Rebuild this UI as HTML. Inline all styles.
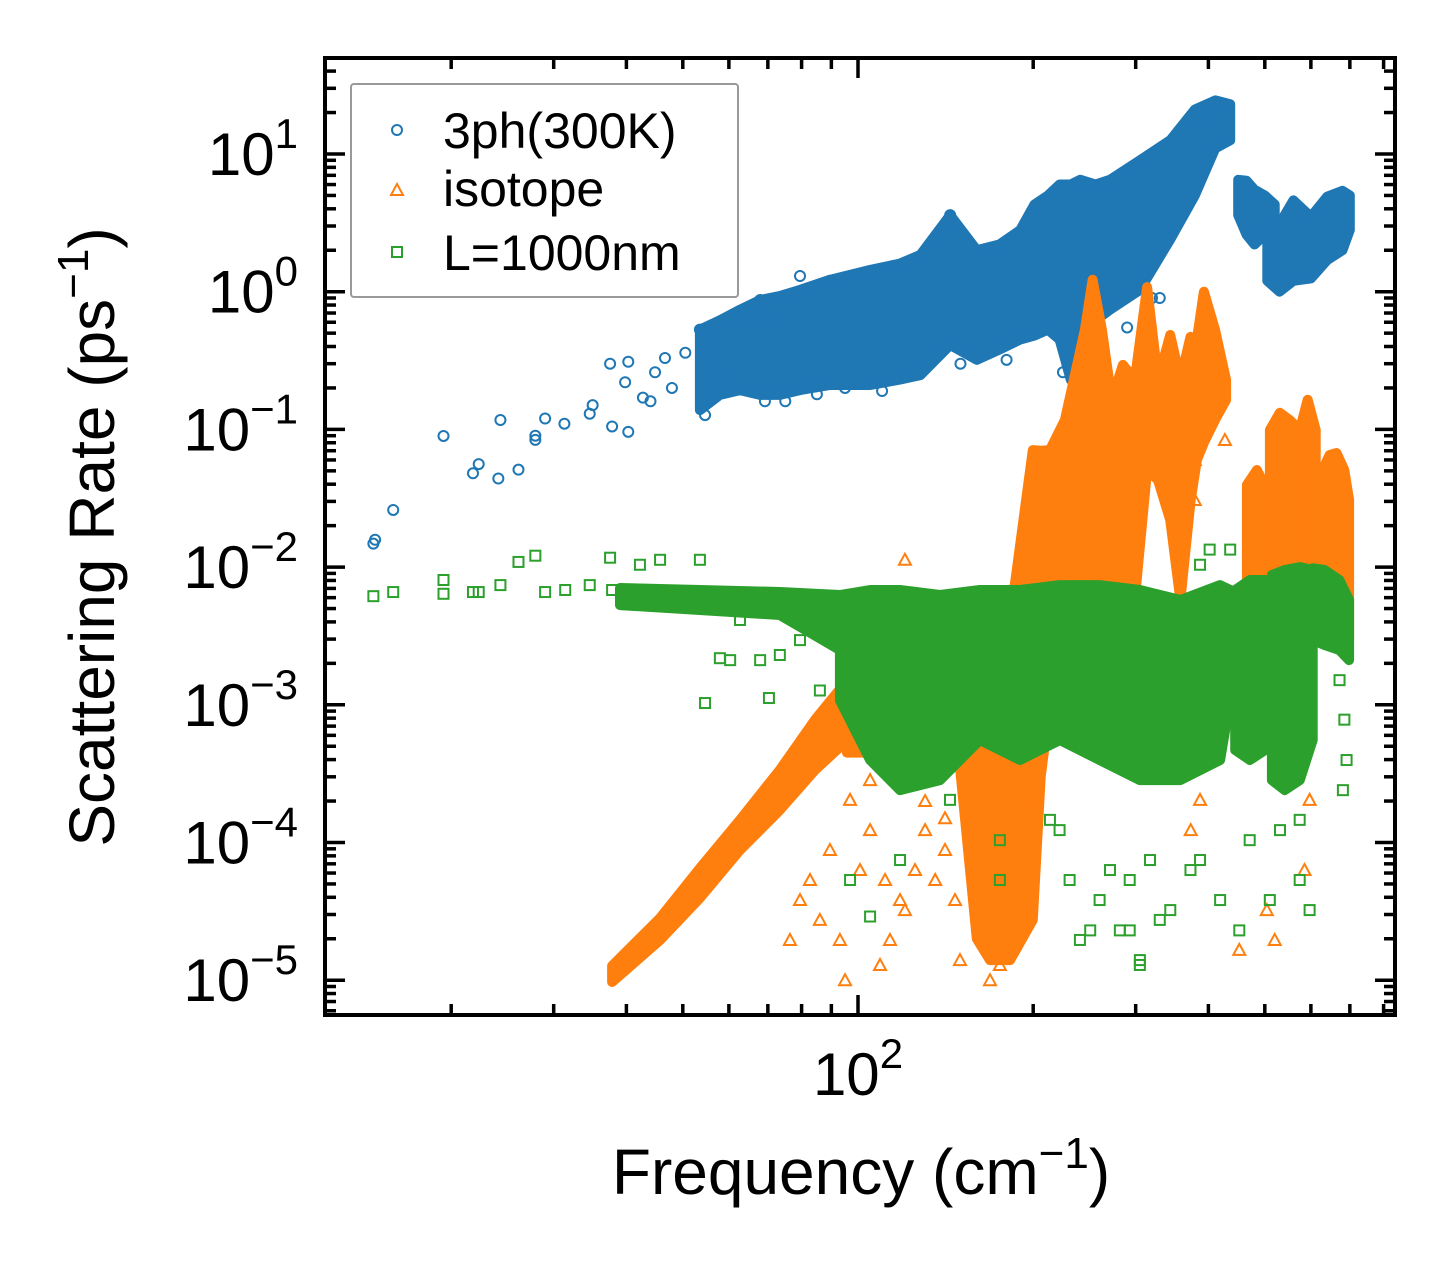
<!DOCTYPE html>
<html><head><meta charset="utf-8"><style>
html,body{margin:0;padding:0;background:#fff;}
svg{display:block;font-family:"Liberation Sans","DejaVu Sans",sans-serif;}
</style></head><body>
<svg id="chart" width="1455" height="1265" viewBox="0 0 1455 1265" xmlns="http://www.w3.org/2000/svg">
<rect width="1455" height="1265" fill="#fff"/>
<g id="series"></g>
<g id="axes"></g>
<g id="legend">
  <rect x="351" y="84" width="387" height="213" rx="3" fill="#fff" fill-opacity="0.8" stroke="#999" stroke-width="2"/>
  <g>
    <circle cx="397" cy="130" r="5" fill="none" stroke="#1f77b4" stroke-width="2"/>
    <text x="443" y="148" font-size="50" fill="#000">3ph(300K)</text>
  </g>
  <g>
    <polygon points="397,184 403,195 391,195" fill="none" stroke="#ff7f0e" stroke-width="2"/>
    <text x="443" y="206" font-size="50" fill="#000">isotope</text>
  </g>
  <g>
    <rect x="392" y="247" width="10" height="10" fill="none" stroke="#2ca02c" stroke-width="2"/>
    <text x="443" y="270" font-size="50" fill="#000">L=1000nm</text>
  </g>
</g>
<text x="861" y="1194" font-size="64" text-anchor="middle">Frequency (cm<tspan font-size="44" dy="-26">−1</tspan><tspan dy="26">)</tspan></text>
<text transform="translate(114,537) rotate(-90)" font-size="64" text-anchor="middle">Scattering Rate (ps<tspan font-size="44" dy="-26">−1</tspan><tspan dy="26">)</tspan></text>
</svg>
<script>
// ---- data (frequency in cm^-1, rate in ps^-1) ----
const xTickValues = [100];
const xTickLabels = ["10"];
const xTickExps = ["2"];
const yTickValues = [10, 1, 0.1, 0.01, 0.001, 0.0001, 0.00001];
const yTickLabels = ["10","10","10","10","10","10","10"];
const yTickExps = ["1","0","−1","−2","−3","−4","−5"];

// 3ph dense band segments
const b1Freq = [53.5,57.9,62.7,67.9,73.4,79.5,89.5,105,118,128,144,160,175,190,201,212,222,232,241,256,271,305,344,379,411,436];
const b1Hi = [0.53,0.62,0.74,0.87,0.93,1.03,1.22,1.44,1.6,1.85,3.6,2.0,2.2,2.8,4.3,5.0,6.0,6.0,6.5,6.0,6.5,9.0,12.6,21,24.5,23];
const b1Lo = [0.138,0.178,0.193,0.178,0.178,0.193,0.21,0.21,0.23,0.248,0.41,0.32,0.38,0.45,0.48,0.53,0.45,0.23,0.38,0.62,0.74,1.03,2.4,5.0,11,12.6];
const b2Freq = [450,465,480,500,520];
const b2Hi = [6.5,6.4,5.5,5.0,4.3];
const b2Lo = [3.6,2.6,2.2,2.6,3.3];
const b3Freq = [505,530,560,600,640,680,700];
const b3Hi = [2.5,3.1,4.6,3.5,4.9,5.4,5.0];
const b3Lo = [1.2,1.0,1.2,1.25,1.7,2.0,2.8];
// 3ph sparse points
const phFreq = [14.7,14.8,15.9,19.4,21.8,22.3,24.1,24.3,26.1,27.9,27.9,29.0,31.3,34.6,35,37.5,37.8,40.3,40.3,39.8,42.7,44,44.8,46.6,47.9,50.5,53.5,54.6,55.7,60,61.5,67.9,69.2,70.6,79.5,89.5,144,232,330,385,75,85,95,110,150,180,260,290,320,225,245];
const phRate = [0.0148,0.0158,0.026,0.0896,0.048,0.056,0.044,0.117,0.051,0.09,0.084,0.12,0.11,0.13,0.15,0.3,0.105,0.096,0.31,0.22,0.17,0.16,0.26,0.33,0.2,0.36,0.53,0.127,0.163,0.25,0.62,0.87,0.16,0.62,1.3,1.2,3.6,0.5,0.9,17,0.16,0.18,0.2,0.19,0.3,0.32,0.5,0.55,0.9,0.26,0.3];

// isotope dense band segments
const o1Freq = [37.8,45.7,53.5,62.7,73.4,84.4,95.7];
const o1Hi = [1.27e-5,2.83e-5,6.5e-5,1.46e-4,3.36e-4,7.8e-4,1.5e-3];
const o1Lo = [9.7e-6,1.96e-5,3.95e-5,8.8e-5,1.72e-4,3.36e-4,5.5e-4];
const o2Freq = [95.7,109.1,127.8,149.7,160,168.6,182.5,199.7,206,213.7,226.7,245.4,253,262.5,273,285.2,299,313.8,327.7,343.9,358,372.6,382.2,393,410.6,429];
const o2Hi = [1.51e-3,1.08e-3,5.55e-4,3.97e-4,5e-4,1.08e-3,4.13e-3,0.0708,0.07,0.0708,0.117,0.53,1.22,0.53,0.164,0.294,0.229,1.08,0.229,0.485,0.229,0.47,0.45,1.0,0.53,0.229];
const o2Lo = [4.5e-4,4.5e-4,4.5e-4,3.5e-4,2e-5,1.4e-5,1.4e-5,2.74e-5,3e-4,1.0e-3,1.5e-3,2.5e-3,2.5e-3,2.5e-3,2.5e-3,2.5e-3,5.77e-3,0.0507,0.0429,0.022,5.77e-3,0.03,0.06,0.08,0.117,0.164];
const o3Freq = [465.8,484.6,504.3];
const o3Hi = [0.0395,0.0507,0.0363];
const o3Lo = [5.77e-3,5.77e-3,5.77e-3];
const o4Freq = [510.2,530.6,551.6,574.3,592.5,611.5];
const o4Hi = [0.099,0.132,0.117,0.099,0.164,0.099];
const o4Lo = [1.08e-3,5.77e-3,8.06e-3,0.01127,0.01127,0.01127];
const o5Freq = [628.5,646.2,664,684.8,698];
const o5Hi = [0.0507,0.0652,0.0674,0.0507,0.0307];
const o5Lo = [0.01127,8.06e-3,5.77e-3,4.13e-3,2.95e-3];
// isotope sparse points
const isoFreq = [120.4,76.4,79.5,86,95,109.1,100.8,82.7,89.5,96.9,104.9,118.1,113.5,104.9,379,379,427,452,520,504,585,597,387,373,685,685,168.6,175.3,120.4,125.3,130.4,135.7,141.1,146.8,149.7,111.3,93.1,130.4,141.1];
const isoRate = [0.0113,1.96e-5,3.82e-5,2.74e-5,1.0e-5,1.29e-5,6.31e-5,5.34e-5,8.83e-5,2.04e-4,1.23e-4,3.82e-5,1.96e-5,2.84e-4,0.06,0.0307,0.0837,1.66e-5,1.96e-5,3.23e-5,6.31e-5,2.04e-4,2.04e-4,1.23e-4,0.0113,8.76e-3,1.0e-5,1.29e-5,3.23e-5,6.31e-5,1.23e-4,5.34e-5,8.83e-5,3.82e-5,1.4e-5,5.34e-5,1.96e-5,2.0e-4,1.5e-4];

// boundary (L=1000nm) dense band segments
const g1Freq = [39.0,53.5,73.4,93.1];
const g1Hi = [7.05e-3,6.82e-3,6.59e-3,6.27e-3];
const g1Lo = [5.3e-3,4.88e-3,4.49e-3,2.5e-3];
const g2Freq = [93.1,104.9,118.1,138.3,162,189.8,222.3,260.1,305.1,358,419,436.1];
const g2Hi = [6.27e-3,6.82e-3,6.82e-3,6.27e-3,6.82e-3,6.82e-3,7.4e-3,7.4e-3,6.82e-3,5.77e-3,7.4e-3,6.82e-3];
const g2Lo = [1.08e-3,3.97e-4,2.4e-4,2.84e-4,5.55e-4,3.97e-4,5.55e-4,3.97e-4,2.84e-4,2.84e-4,3.97e-4,1.08e-3];
const g3Freq = [444.8,471.3,500.7,510.2];
const g3Hi = [6.82e-3,8.06e-3,8.06e-3,7.4e-3];
const g3Lo = [4.7e-4,3.97e-4,4.7e-4,1.08e-3];
const g4Freq = [514.3,541,574.3,604.3];
const g4Hi = [8.76e-3,9.53e-3,0.01,9.53e-3];
const g4Lo = [2.84e-4,2.4e-4,2.84e-4,5.55e-4];
const g5Freq = [604.3,633.5,671.7,698];
const g5Hi = [9.8e-3,9.53e-3,8.06e-3,5.77e-3];
const g5Lo = [2.95e-3,2.72e-3,2.5e-3,2.11e-3];
// boundary sparse points
const bdFreq = [14.7,15.9,19.4,19.4,21.8,22.3,24.3,26.1,27.9,29.0,31.4,34.6,37.5,37.8,40.3,42.2,45.7,53.5,54.6,70.3,57.9,62.7,60.3,67.9,73.4,79.5,86.0,96.9,104.9,118.1,143.9,175.3,175.3,213.7,260.1,293,330,372.6,419,452,510,574,597,305,281.8,240.6,436,402,387,672,685,691,681,231,250.6,271,293,317.5,344,387,471,531,574,222,305];
const bdRate = [6.15e-3,6.59e-3,6.4e-3,8.06e-3,6.59e-3,6.59e-3,7.4e-3,0.0109,0.0121,6.59e-3,6.82e-3,7.4e-3,0.0117,6.82e-3,6.82e-3,0.0104,0.0113,0.0113,1.03e-3,1.12e-3,2.18e-3,4.13e-3,2.11e-3,2.11e-3,2.3e-3,2.95e-3,1.27e-3,5.34e-5,2.9e-5,7.46e-5,2.04e-4,1.04e-4,5.34e-5,1.46e-4,3.82e-5,2.3e-5,2.74e-5,6.31e-5,3.82e-5,2.3e-5,3.82e-5,5.34e-5,3.23e-5,1.29e-5,2.3e-5,1.96e-5,0.0134,0.0134,0.0104,1.51e-3,7.8e-4,3.97e-4,2.4e-4,5.34e-5,2.3e-5,6.31e-5,5.34e-5,7.46e-5,3.23e-5,7.46e-5,1.04e-4,1.23e-4,1.46e-4,1.23e-4,1.4e-5];

// ---- scales ----
const L=325, R=1395, T=58, B=1015;
function xs(f){ return 858 + 582*Math.log10(f/100); }
function ys(r){ return 154 + 137.7*(1-Math.log10(r)); }
const NS='http://www.w3.org/2000/svg';
function mk(tag, attrs, parent){ const e=document.createElementNS(NS,tag); for(const k in attrs) e.setAttribute(k,attrs[k]); parent.appendChild(e); return e; }
const series=document.getElementById('series');
const axes=document.getElementById('axes');

const clip=mk('clipPath',{id:'plotclip'},mk('defs',{},series));
mk('rect',{x:L,y:T,width:R-L,height:B-T},clip);

function band(g, fr, hi, lo, color, name){
  let pts=[];
  for(let i=0;i<fr.length;i++) pts.push(xs(fr[i]).toFixed(1)+','+ys(hi[i]).toFixed(1));
  for(let i=fr.length-1;i>=0;i--) pts.push(xs(fr[i]).toFixed(1)+','+ys(lo[i]).toFixed(1));
  const p=mk('polygon',{points:pts.join(' '),fill:color,stroke:color,'stroke-width':10,'stroke-linejoin':'round'},g);
  
  
}
function circles(g, fr, rt, color){
  for(let i=0;i<fr.length;i++){
    const c=mk('circle',{cx:xs(fr[i]),cy:ys(rt[i]),r:5,fill:'none',stroke:color,'stroke-width':2},g);
    
    
  }
}
function tris(g, fr, rt, color){
  for(let i=0;i<fr.length;i++){
    const x=xs(fr[i]), y=ys(rt[i]);
    const p=mk('polygon',{points:`${x},${y-6} ${x+6},${y+5} ${x-6},${y+5}`,fill:'none',stroke:color,'stroke-width':2},g);
    
    
  }
}
function squares(g, fr, rt, color){
  for(let i=0;i<fr.length;i++){
    const s=mk('rect',{x:xs(fr[i])-5,y:ys(rt[i])-5,width:10,height:10,fill:'none',stroke:color,'stroke-width':2},g);
    
    
  }
}
const gB=mk('g',{'clip-path':'url(#plotclip)'},series);


band(gB,b1Freq,b1Hi,b1Lo,'#1f77b4','band-3ph-main');
band(gB,b2Freq,b2Hi,b2Lo,'#1f77b4','band-3ph-high1');
band(gB,b3Freq,b3Hi,b3Lo,'#1f77b4','band-3ph-high2');
circles(gB,phFreq,phRate,'#1f77b4');

const gO=mk('g',{'clip-path':'url(#plotclip)'},series);


band(gO,o1Freq,o1Hi,o1Lo,'#ff7f0e','band-isotope-low');
band(gO,o2Freq,o2Hi,o2Lo,'#ff7f0e','band-isotope-main');
band(gO,o3Freq,o3Hi,o3Lo,'#ff7f0e','band-isotope-3');
band(gO,o4Freq,o4Hi,o4Lo,'#ff7f0e','band-isotope-4');
band(gO,o5Freq,o5Hi,o5Lo,'#ff7f0e','band-isotope-5');
tris(gO,isoFreq,isoRate,'#ff7f0e');

const gG=mk('g',{'clip-path':'url(#plotclip)'},series);


band(gG,g1Freq,g1Hi,g1Lo,'#2ca02c','band-boundary-1');
band(gG,g2Freq,g2Hi,g2Lo,'#2ca02c','band-boundary-2');
band(gG,g3Freq,g3Hi,g3Lo,'#2ca02c','band-boundary-3');
band(gG,g4Freq,g4Hi,g4Lo,'#2ca02c','band-boundary-4');
band(gG,g5Freq,g5Hi,g5Lo,'#2ca02c','band-boundary-5');
squares(gG,bdFreq,bdRate,'#2ca02c');

// ---- axes: ticks ----
function tick(x1,y1,x2,y2,name){
  const l=mk('line',{x1,y1,x2,y2,stroke:'#000','stroke-width':3.5},axes);
  
  
}
for(let d=10; d<=1000; d*=10){
  for(let m=1;m<=9;m++){
    const f=d*m, x=xs(f);
    if(x<L-0.5||x>R+0.5) continue;
    const len = m===1?20:11;
    tick(x,B,x,B-len,'x-tick');
    tick(x,T,x,T+len,'x-tick-top');
  }
}
for(let e=-6;e<=2;e++){
  for(let m=1;m<=9;m++){
    const r=m*Math.pow(10,e), y=ys(r);
    if(y<T-0.5||y>B+0.5) continue;
    const len = m===1?20:11;
    tick(L,y,L+len,y,'y-tick');
    tick(R,y,R-len,y,'y-tick-right');
  }
}
const fr=mk('rect',{x:L,y:T,width:R-L,height:B-T,fill:'none',stroke:'#000','stroke-width':4},axes);


for(let i=0;i<xTickValues.length;i++){
  const t=mk('text',{x:xs(xTickValues[i]),y:1095,'font-size':60,'text-anchor':'middle'},axes);
  
  
  t.textContent=xTickLabels[i];
  const s=mk('tspan',{'font-size':42,dy:-27},t); s.textContent=xTickExps[i];
}
for(let i=0;i<yTickValues.length;i++){
  const t=mk('text',{x:298,y:ys(yTickValues[i])+21,'font-size':60,'text-anchor':'end'},axes);
  
  
  t.textContent=yTickLabels[i];
  const s=mk('tspan',{'font-size':42,dy:-27},t); s.textContent=yTickExps[i];
}
</script>
</body></html>
